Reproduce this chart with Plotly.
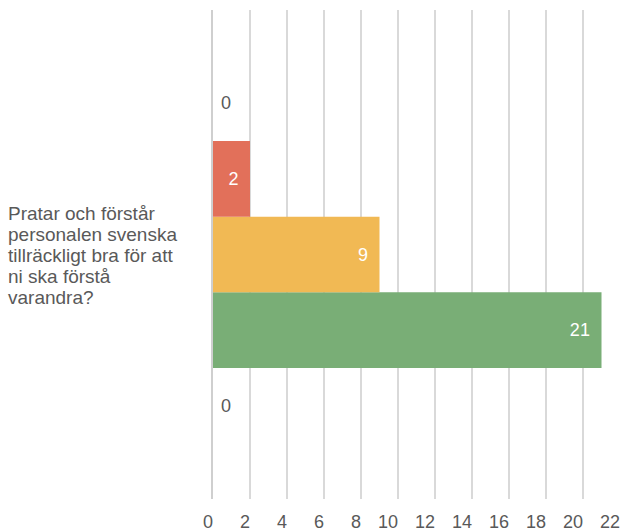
import plotly.graph_objects as go

category = ["Pratar och förstår<br>personalen svenska<br>tillräckligt bra för att<br>ni ska förstå<br>varandra?"]
# series listed top to bottom as shown
series_names = ["Serie 1", "Serie 2", "Serie 3", "Serie 4", "Serie 5"]
series_values = [0, 2, 9, 21, 0]
series_colors = ["#A5A5A5", "#E2705A", "#F1B954", "#79AE76", "#5B9BD5"]
x_ticks = list(range(0, 23, 2))

NB = "\u00a0"
fig = go.Figure()
# plotly draws the first grouped trace at the bottom, so add in reverse
for name, val, col in reversed(list(zip(series_names, series_values, series_colors))):
    inside = val > 0
    fig.add_trace(go.Bar(
        y=[category[0]], x=[val], name=name, orientation="h",
        marker=dict(color=col, line=dict(width=0)),
        text=[(str(val) + NB + "\u2009") if inside else (NB + str(val))],
        textposition="inside" if inside else "outside",
        insidetextanchor="end",
        textfont=dict(color="white" if inside else "#595959", size=18),
        outsidetextfont=dict(color="#595959", size=18),
        insidetextfont=dict(color="white", size=18),
        cliponaxis=False,
        hoverinfo="skip",
    ))

annotations = []
lines = category[0].split("<br>")
n = len(lines)
for i, line in enumerate(lines):
    annotations.append(dict(
        x=0, xref="paper", xanchor="left", xshift=-207,
        y=0.5, yref="paper", yanchor="middle", yshift=((n - 1) / 2 - i) * 20.8 - 1,
        text=line, showarrow=False, align="left",
        font=dict(size=19, color="#595959"),
    ))

# tick labels are right-aligned to their gridline in the reference
fig.update_layout(
    barmode="group",
    bargap=0.227,
    bargroupgap=0,
    showlegend=False,
    width=621, height=531,
    margin=dict(l=213, r=1, t=10, b=32),
    plot_bgcolor="white", paper_bgcolor="white",
    font=dict(family="Liberation Sans, Arial, sans-serif", size=18, color="#595959"),
    xaxis=dict(
        range=[0, 22], tickvals=x_ticks,
        ticktext=[NB * (2 * (2 - len(str(t)))) + str(t) for t in x_ticks],
        ticklabelshift=-10,
        tickangle=0, automargin=False, ticklabeloverflow="allow",
        showgrid=True, gridcolor="#D9D9D9", gridwidth=1.5,
        zeroline=False, showline=False,
        ticks="outside", ticklen=6, tickcolor="rgba(0,0,0,0)",
        tickfont=dict(size=18, color="#595959"),
    ),
    yaxis=dict(showticklabels=False, showgrid=False, zeroline=False,
               showline=True, linecolor="#CFCFCF", linewidth=1.5, automargin=False),
    annotations=annotations,
)
fig.write_html("out.html", config={"displayModeBar": False},
               post_script="document.body.style.margin='0';")
